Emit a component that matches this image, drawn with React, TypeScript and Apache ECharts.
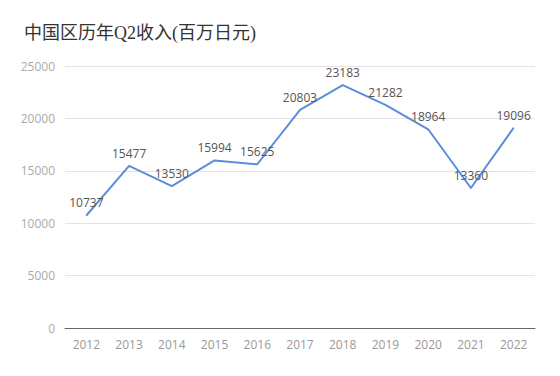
import React, { useEffect, useRef } from "react";
import * as echarts from "echarts";

const years = ["2012", "2013", "2014", "2015", "2016", "2017", "2018", "2019", "2020", "2021", "2022"];
const revenue = [10737, 15477, 13530, 15994, 15625, 20803, 23183, 21282, 18964, 13360, 19096];
const titleText = "中国区历年Q2收入(百万日元)";

export default function App() {
  const ref = useRef<HTMLDivElement>(null);
  useEffect(() => {
    document.body.style.margin = "0";
    const chart = echarts.init(ref.current!, null, { renderer: "svg" });
    const font = "'Open Sans', 'Noto Sans CJK SC', sans-serif";
    chart.setOption({
      animation: false,
      title: {
        text: titleText,
        left: 19,
        top: 19,
        textStyle: {
          fontFamily: "'Liberation Serif', 'Noto Sans CJK SC', serif",
          fontSize: 18,
          fontWeight: "normal",
          color: "#333",
        },
      },
      grid: { left: 65, right: 25, top: 66, bottom: 48 },
      xAxis: {
        type: "category",
        data: years,
        axisLine: { lineStyle: { color: "#666" } },
        axisTick: { alignWithLabel: true, lineStyle: { color: "#999" } },
        axisLabel: { color: "#999", fontSize: 12, fontFamily: font, margin: 10 },
      },
      yAxis: {
        type: "value",
        min: 0,
        max: 25000,
        interval: 5000,
        axisLine: { show: false },
        axisTick: { show: false },
        axisLabel: {
          color: "#aaa",
          fontSize: 12,
          fontFamily: font,
          margin: 10,
          formatter: (v: number) => String(v),
        },
        splitLine: { lineStyle: { color: "#e3e3e3" } },
      },
      series: [
        {
          type: "line",
          data: revenue,
          symbol: "circle",
          symbolSize: 1,
          showSymbol: true,
          lineStyle: { color: "#5b8ddc", width: 2 },
          itemStyle: { color: "#5b8ddc" },
          label: {
            show: true,
            position: "top",
            distance: 6,
            color: "#555",
            fontSize: 12,
            fontFamily: font,
          },
        },
      ],
    });
    return () => chart.dispose();
  }, []);
  return <div ref={ref} style={{ width: 560, height: 376 }} />;
}
